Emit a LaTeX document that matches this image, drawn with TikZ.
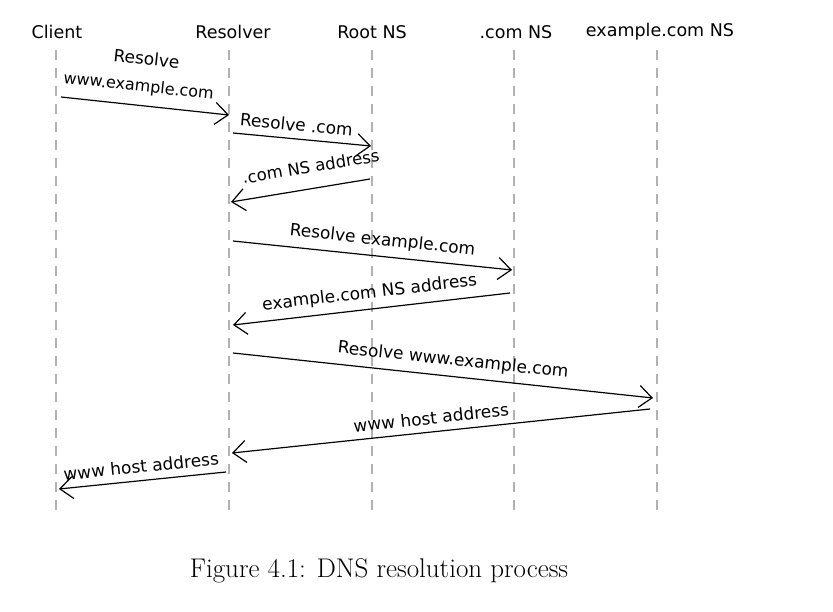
\documentclass[tikz,border=0pt]{standalone}
\usepackage{fontspec}
\newfontfamily\hand{DejaVu Sans}
\usetikzlibrary{arrows.meta}
\begin{document}
\begin{tikzpicture}[x=1pt,y=-1pt,
  head/.style={font=\hand\fontsize{17.5}{20}\selectfont, inner sep=0pt},
  lbl/.style={font=\hand\fontsize{17}{19}\selectfont, inner sep=1pt, sloped, above=6pt},
  life/.style={draw=black!30, line width=1.3pt, dash pattern=on 10pt off 8pt},
  msg/.style={draw=black, line width=1.2pt, -{Straight Barb[length=13pt,width=22pt,line width=1.2pt]}}
]
\useasboundingbox (0,0) rectangle (833,612);
% headers
\node[head] (client) at (57,32) {Client};
\node[head] (resolver) at (233,32) {Resolver};
\node[head] (root) at (372,32) {Root NS};
\node[head] (comns) at (516,32) {.com NS};
\node[head] (exns) at (660,32) {example.com NS};
% lifelines
\coordinate (lt1) at (56,50);  \coordinate (lb1) at (56,512);
\coordinate (lt2) at (229,50); \coordinate (lb2) at (229,512);
\coordinate (lt3) at (372,50); \coordinate (lb3) at (372,512);
\coordinate (lt4) at (514,50); \coordinate (lb4) at (514,512);
\coordinate (lt5) at (657,50); \coordinate (lb5) at (657,512);
\foreach \i in {1,...,5} \draw[life] (lt\i) -- (lb\i);
% message endpoints
\coordinate (a1) at (61,97);   \coordinate (b1) at (229,115);
\coordinate (a2) at (233,133); \coordinate (b2) at (371,146);
\coordinate (a3) at (370,179); \coordinate (b3) at (231,202);
\coordinate (a4) at (233,241); \coordinate (b4) at (512,270);
\coordinate (a5) at (510,293); \coordinate (b5) at (233,325);
\coordinate (a6) at (233,353); \coordinate (b6) at (653,398);
\coordinate (a7) at (650,409); \coordinate (b7) at (232,453);
\coordinate (a8) at (226,472); \coordinate (b8) at (59,489);
% messages
\draw[msg] (a1) -- node[lbl, pos=0.45, font=\hand\fontsize{16}{18}\selectfont, above=3pt] (l1) {www.example.com}
                   node[lbl, pos=0.48, above=33pt] (l1a) {Resolve} (b1);
\draw[msg] (a2) -- node[lbl, pos=0.45] (l2) {Resolve .com} (b2);
\draw[msg] (a3) -- node[lbl, pos=0.40, above=8pt, font=\hand\fontsize{16.5}{19}\selectfont] (l3) {.com NS address} (b3);
\draw[msg] (a4) -- node[lbl, pos=0.53] (l4) {Resolve example.com} (b4);
\draw[msg] (a5) -- node[lbl, pos=0.5] (l5) {example.com NS address} (b5);
\draw[msg] (a6) -- node[lbl, pos=0.52] (l6) {Resolve www.example.com} (b6);
\draw[msg] (a7) -- node[lbl, pos=0.52] (l7) {www host address} (b7);
\draw[msg] (a8) -- node[lbl, pos=0.5] (l8) {www host address} (b8);
% caption
\node[font=\fontsize{27}{32}\selectfont, inner sep=0pt] (cap) at (379,571) {Figure 4.1: DNS resolution process};
\end{tikzpicture}
\end{document}
